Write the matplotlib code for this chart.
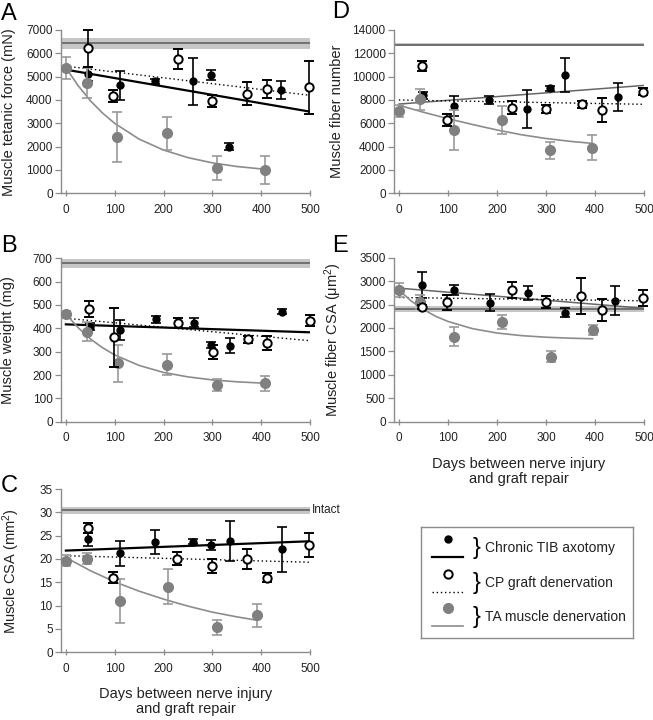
import numpy as np
import matplotlib.pyplot as plt
from matplotlib.transforms import blended_transform_factory

plt.rcParams['font.family'] = ['Liberation Sans', 'DejaVu Sans']
plt.rcParams['mathtext.fontset'] = 'custom'
plt.rcParams['mathtext.rm'] = 'Liberation Sans'
plt.rcParams['mathtext.it'] = 'Liberation Sans:italic'

# ---- data (days, mean, SEM) ----
# A: muscle tetanic force (mN)
A_TIB_DAYS = [46, 111, 183, 261, 297, 335, 441]
A_TIB = [5110, 4630, 4800, 4800, 5070, 2000, 4430]
A_TIB_SEM = [300, 620, 110, 1000, 200, 150, 380]
A_CP_DAYS = [46, 97, 229, 299, 371, 411, 497]
A_CP = [6210, 4180, 5740, 3960, 4270, 4470, 4540]
A_CP_SEM = [780, 250, 430, 270, 480, 400, 1130]
A_TA_DAYS = [0, 44, 104, 208, 310, 408]
A_TA = [5385, 4715, 2430, 2570, 1100, 1000]
A_TA_SEM = [470, 650, 1070, 720, 520, 600]
A_INTACT = (6430, 240)
A_TIB_FIT = [5300, 3500]
A_CP_FIT = [5450, 4200]
A_TA_FIT_DAYS = [0, 25, 50, 75, 100, 150, 200, 250, 300, 350, 410]
A_TA_FIT = [5385, 4615, 3973, 3442, 2998, 2322, 1854, 1530, 1305, 1149, 1025]

# B: muscle weight (mg)
B_TIB_DAYS = [50, 111, 184, 263, 298, 336, 442]
B_TIB = [407, 393, 439, 424, 329, 326, 471]
B_TIB_SEM = [15, 43, 15, 20, 12, 32, 10]
B_CP_DAYS = [48, 99, 229, 301, 372, 411, 499]
B_CP = [484, 361, 424, 300, 353, 336, 433]
B_CP_SEM = [35, 127, 22, 30, 15, 30, 25]
B_TA_DAYS = [1, 44, 106, 208, 310, 408]
B_TA = [461, 386, 250, 243, 157, 164]
B_TA_SEM = [15, 40, 78, 45, 25, 33]
B_INTACT = (678, 20)
B_TIB_FIT = [417, 383]
B_CP_FIT = [443, 347]
B_TA_FIT_DAYS = [0, 25, 50, 75, 100, 150, 200, 250, 300, 350, 405]
B_TA_FIT = [461, 403, 355, 317, 286, 241, 211, 192, 179, 171, 165]

# C: muscle CSA (mm2)
C_TIB_DAYS = [46, 111, 183, 261, 297, 336, 442]
C_TIB = [24.2, 21.2, 23.7, 23.7, 23.0, 23.9, 22.1]
C_TIB_SEM = [1.4, 2.7, 2.6, 0.5, 1.0, 4.3, 4.8]
C_CP_DAYS = [46, 97, 228, 299, 370, 411, 497]
C_CP = [26.6, 16.0, 20.1, 18.5, 20.0, 16.0, 23.0]
C_CP_SEM = [1.1, 1.2, 1.3, 1.5, 2.1, 0.9, 2.5]
C_TA_DAYS = [0, 44, 110, 209, 309, 391]
C_TA = [19.6, 20.1, 11.0, 14.1, 5.4, 7.9]
C_TA_SEM = [1.2, 1.2, 4.7, 3.8, 1.6, 2.5]
C_INTACT = (30.4, 0.8)
C_TIB_FIT = [21.8, 23.8]
C_CP_FIT = [20.7, 19.3]
C_TA_FIT_DAYS = [0, 50, 100, 150, 200, 250, 300, 350, 390]
C_TA_FIT = [20.3, 17.5, 15.1, 13.1, 11.4, 9.9, 8.6, 7.6, 6.9]

# D: muscle fiber number
D_TIB_DAYS = [49, 112, 184, 262, 308, 339, 446]
D_TIB = [8400, 7500, 7970, 7230, 9000, 10140, 8290]
D_TIB_SEM = [300, 850, 350, 1600, 200, 1430, 1200]
D_CP_DAYS = [47, 98, 230, 301, 373, 415, 497]
D_CP = [10920, 6285, 7350, 7257, 7630, 7143, 8686]
D_CP_SEM = [400, 500, 550, 350, 300, 1000, 300]
D_TA_DAYS = [1, 44, 112, 210, 309, 394]
D_TA = [7080, 8060, 5430, 6285, 3690, 3914]
D_TA_SEM = [500, 900, 1700, 1200, 750, 1050]
D_INTACT = (12750, 130)
D_TIB_FIT = [7650, 9250]
D_CP_FIT = [8000, 7630]
D_TA_FIT_DAYS = [0, 50, 100, 150, 200, 250, 300, 350, 395]
D_TA_FIT = [7550, 6950, 6400, 5900, 5430, 5020, 4700, 4450, 4280]

# E: muscle fiber CSA (um2)
E_TIB_DAYS = [48, 113, 185, 264, 339, 441]
E_TIB = [2924, 2811, 2540, 2740, 2327, 2582]
E_TIB_SEM = [280, 110, 180, 150, 100, 310]
E_CP_DAYS = [48, 99, 230, 301, 372, 415, 497]
E_CP = [2441, 2548, 2811, 2548, 2689, 2384, 2633]
E_CP_SEM = [40, 160, 170, 130, 380, 230, 170]
E_TA_DAYS = [1, 44, 113, 210, 310, 395]
E_TA = [2811, 2561, 1814, 2134, 1387, 1957]
E_TA_SEM = [140, 150, 200, 150, 120, 100]
E_INTACT = (2400, 60)
E_TIB_FIT = [2850, 2420]
E_CP_FIT = [2650, 2580]
E_TA_FIT_DAYS = [0, 25, 50, 75, 100, 150, 200, 250, 300, 350, 395]
E_TA_FIT = [2811, 2576, 2393, 2250, 2140, 1986, 1893, 1837, 1803, 1782, 1770]

FIT_DAYS = [0, 500]
X_TICKS = [0, 100, 200, 300, 400, 500]
LEGEND_LABELS = ['Chronic TIB axotomy', 'CP graft denervation', 'TA muscle denervation']

GRAY = '#808080'
SPINE = '#8c8c8c'

TIB_STYLE = dict(fmt='o', ms=5, mfc='black', mec='black', ecolor='black')
CP_STYLE = dict(fmt='o', ms=6, mfc='white', mec='black', mew=1.4, ecolor='black')
TA_STYLE = dict(fmt='o', ms=7, mfc=GRAY, mec=GRAY, ecolor='#999999')


def draw_panel(ax, tib, cp, ta, fits, intact, ymax, ystep, ylabel, label_x,
               thin_trend=False):
    mean, sem = intact
    ax.axhspan(mean - sem, mean + sem, color='#c6c6c6', lw=0, zorder=1)
    ax.axhline(mean, color='#6a6a6a', lw=1.3, zorder=1.5)

    tib_fit, cp_fit, ta_fit_days, ta_fit = fits
    if thin_trend:
        ax.plot(FIT_DAYS, tib_fit, color='#666666', lw=1.1, zorder=2)
    else:
        ax.plot(FIT_DAYS, tib_fit, color='black', lw=1.6, zorder=2)
    ax.plot(FIT_DAYS, cp_fit, color='black', lw=1.0, ls=(0, (1, 2)), zorder=2)
    ax.plot(ta_fit_days, ta_fit, color='#8c8c8c', lw=1.2, zorder=2)

    common = dict(elinewidth=1.2, capsize=3.5, capthick=1.2, clip_on=False)
    for (d, m, s), style, z in ((tib, TIB_STYLE, 3), (ta, TA_STYLE, 4), (cp, CP_STYLE, 5)):
        eb = ax.errorbar(d, m, yerr=s, zorder=z, **style, **common)
        for art in eb.lines[1] + eb.lines[2]:
            art.set_zorder(z)

    ax.set_xlim(-10, 500)
    ax.set_ylim(0, ymax)
    ax.set_xticks(X_TICKS)
    ax.set_yticks(np.arange(0, ymax + ystep / 2, ystep))
    for side in ('top', 'right'):
        ax.spines[side].set_visible(False)
    for side in ('left', 'bottom'):
        ax.spines[side].set_color(SPINE)
        ax.spines[side].set_linewidth(1.0)
    ax.tick_params(axis='y', direction='out', length=4, width=0.9, color=SPINE,
                   pad=2, labelsize=8.5, labelcolor='#222222')
    ax.tick_params(axis='x', direction='inout', length=5, width=0.9, color=SPINE,
                   pad=5, labelsize=8.5, labelcolor='#222222')
    ax.set_ylabel(ylabel, fontsize=10.5, color='#222222')
    ax.yaxis.set_label_coords(label_x, 0.5)


fig = plt.figure(figsize=(6.53, 7.2), dpi=100)
W, H = 653.0, 720.0


def add_axes(left, top, width, height):
    return fig.add_axes([left / W, 1 - (top + height) / H, width / W, height / H])


axA = add_axes(61, 30, 249, 163.3)
axB = add_axes(61, 258.3, 249, 163.4)
axC = add_axes(61, 489, 249, 163.3)
axD = add_axes(394, 30, 250, 163.3)
axE = add_axes(394, 257.7, 250, 164)

draw_panel(axA, (A_TIB_DAYS, A_TIB, A_TIB_SEM), (A_CP_DAYS, A_CP, A_CP_SEM),
           (A_TA_DAYS, A_TA, A_TA_SEM), (A_TIB_FIT, A_CP_FIT, A_TA_FIT_DAYS, A_TA_FIT),
           A_INTACT, 7000, 1000, 'Muscle tetanic force (mN)', -0.18)
draw_panel(axB, (B_TIB_DAYS, B_TIB, B_TIB_SEM), (B_CP_DAYS, B_CP, B_CP_SEM),
           (B_TA_DAYS, B_TA, B_TA_SEM), (B_TIB_FIT, B_CP_FIT, B_TA_FIT_DAYS, B_TA_FIT),
           B_INTACT, 700, 100, 'Muscle weight (mg)', -0.185)
draw_panel(axC, (C_TIB_DAYS, C_TIB, C_TIB_SEM), (C_CP_DAYS, C_CP, C_CP_SEM),
           (C_TA_DAYS, C_TA, C_TA_SEM), (C_TIB_FIT, C_CP_FIT, C_TA_FIT_DAYS, C_TA_FIT),
           C_INTACT, 35, 5, 'Muscle CSA (mm$^2$)', -0.155)
draw_panel(axD, (D_TIB_DAYS, D_TIB, D_TIB_SEM), (D_CP_DAYS, D_CP, D_CP_SEM),
           (D_TA_DAYS, D_TA, D_TA_SEM), (D_TIB_FIT, D_CP_FIT, D_TA_FIT_DAYS, D_TA_FIT),
           D_INTACT, 14000, 2000, 'Muscle fiber number', -0.2, thin_trend=True)
draw_panel(axE, (E_TIB_DAYS, E_TIB, E_TIB_SEM), (E_CP_DAYS, E_CP, E_CP_SEM),
           (E_TA_DAYS, E_TA, E_TA_SEM), (E_TIB_FIT, E_CP_FIT, E_TA_FIT_DAYS, E_TA_FIT),
           E_INTACT, 3500, 500, 'Muscle fiber CSA (\u03bcm$^2$)', -0.2, thin_trend=True)

for ax in (axC, axE):
    ax.set_xlabel('Days between nerve injury\nand graft repair', fontsize=10.5,
                  color='#222222', linespacing=1.05)
    ax.xaxis.set_label_coords(0.5, -0.215)

trans = blended_transform_factory(axC.transAxes, axC.transData)
axC.text(1.008, C_INTACT[0], 'Intact', transform=trans, va='center', ha='left',
         fontsize=8.5, color='#222222')

for letter, (x, y) in zip('ABCDE', [(1, 3), (1, 235), (1, 475), (332, 1), (332, 235)]):
    fig.text(x / W, 1 - y / H, letter, fontsize=17, va='top', ha='left')

# legend drawn in its own box (pixel-like coordinates, y downwards)
lg = add_axes(420.7, 527.3, 212.6, 110.4)
lg.set_xlim(0, 212.6)
lg.set_ylim(110.4, 0)
lg.set_xticks([])
lg.set_yticks([])
for sp in lg.spines.values():
    sp.set_color('#8c8c8c')
    sp.set_linewidth(1.0)

row_y = [12, 47, 81]
marker_styles = [
    dict(marker='o', ms=5, mfc='black', mec='black'),
    dict(marker='o', ms=6, mfc='white', mec='black', mew=1.4),
    dict(marker='o', ms=7, mfc=GRAY, mec=GRAY),
]
line_styles = [
    dict(color='black', lw=1.6),
    dict(color='black', lw=1.0, ls=(0, (1, 2))),
    dict(color='#8c8c8c', lw=1.2),
]
for y, label, ms, ls in zip(row_y, LEGEND_LABELS, marker_styles, line_styles):
    lg.plot([27], [y], ls='none', **ms)
    lg.plot([11, 42.6], [y + 17.5, y + 17.5], **ls)
    lg.text(56, y + 9, '}', fontsize=17, va='center', ha='center')
    lg.text(64, y + 9, label, fontsize=10, va='center', ha='left', color='#222222')

fig.savefig('out.png', dpi=100)
